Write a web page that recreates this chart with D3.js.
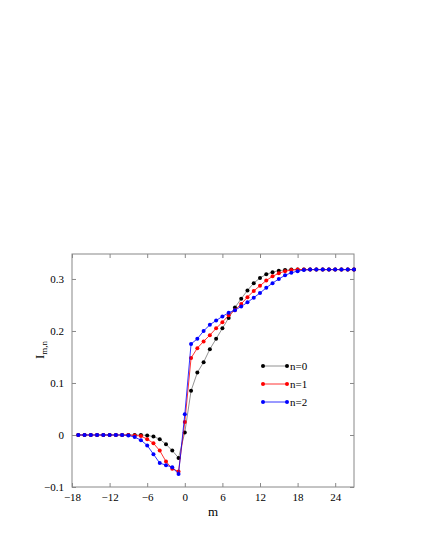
<!DOCTYPE html><html><head><script src="https://cdn.jsdelivr.net/npm/d3@7"></script>
<style>body{margin:0;background:#fff}</style></head><body><script>
const m=d3.range(-17,28);
const tail=(n,v)=>Array(n).fill(v);
const n0=[...tail(11,0),-0.001,-0.003,-0.008,-0.018,-0.03,-0.044,0.005,0.085,0.12,0.14,0.165,0.185,0.205,0.225,0.245,0.262,0.278,0.292,0.302,0.309,0.313,0.316,0.317,...tail(11,0.318)];
const n1=[...tail(9,0),-0.001,-0.002,-0.008,-0.016,-0.03,-0.051,-0.065,-0.07,0.025,0.148,0.167,0.18,0.192,0.205,0.217,0.23,0.24,0.252,0.265,0.277,0.287,0.297,0.305,0.311,0.315,0.317,...tail(10,0.318)];
const n2=[...tail(8,0),-0.001,-0.004,-0.01,-0.02,-0.037,-0.054,-0.058,-0.062,-0.075,0.04,0.175,0.185,0.2,0.212,0.22,0.228,0.235,0.24,0.247,0.255,0.264,0.273,0.283,0.292,0.3,0.307,0.312,0.315,0.317,...tail(8,0.318)];
const series=[{name:"n=0",c:"#000",line:"#777",v:n0},{name:"n=1",c:"#f00",line:"#f00",v:n1},{name:"n=2",c:"#00f",line:"#00f",v:n2}];
const xTicks=[-18,-12,-6,0,6,12,18,24], yTicks=[-0.1,0,0.1,0.2,0.3];
const F="Liberation Serif, serif";
const svg=d3.select("body").append("svg").attr("width",425).attr("height",550).attr("font-family",F);
const x=d3.scaleLinear().domain([-18,27]).range([72,354]);
const y=d3.scaleLinear().domain([-0.1,0.348]).range([487,254]);
svg.append("rect").attr("x",72).attr("y",254).attr("width",282).attr("height",233).attr("fill","none").attr("stroke","#888");
const fmt=d=>d===0?"0":(d<0?"\u2212":"")+Math.abs(d);
svg.append("g").attr("transform","translate(0,487)").call(d3.axisBottom(x).tickValues(xTicks).tickFormat(fmt).tickSize(-4).tickPadding(6));
svg.append("g").attr("transform","translate(0,254)").call(d3.axisTop(x).tickValues(xTicks).tickFormat("").tickSize(-4));
svg.append("g").attr("transform","translate(72,0)").call(d3.axisLeft(y).tickValues(yTicks).tickFormat(fmt).tickSize(-4).tickPadding(8));
svg.append("g").attr("transform","translate(354,0)").call(d3.axisRight(y).tickValues(yTicks).tickFormat("").tickSize(-4));
svg.selectAll("g").attr("font-family",F);
svg.selectAll(".domain").remove();
svg.selectAll(".tick line").attr("stroke","#888");
svg.selectAll(".tick text").attr("font-size",11).attr("fill","#000");
svg.append("text").attr("x",213).attr("y",516).attr("text-anchor","middle").attr("font-size",13).text("m");
const yl=svg.append("text").attr("transform","translate(44,350) rotate(-90)").attr("text-anchor","middle").attr("font-size",13);
yl.append("tspan").text("I");yl.append("tspan").attr("font-size",9).attr("dy",3).text("m,n");
const line=d3.line().x((d,i)=>x(m[i])).y(d=>y(d));
series.forEach((s,k)=>{
 svg.append("path").attr("d",line(s.v)).attr("fill","none").attr("stroke",s.line).attr("stroke-width",0.8);
 svg.append("g").selectAll("circle").data(s.v).join("circle").attr("cx",(d,i)=>x(m[i])).attr("cy",d=>y(d)).attr("r",2).attr("fill",s.c);
 const ly=366+k*18;
 svg.append("line").attr("x1",263).attr("x2",287).attr("y1",ly).attr("y2",ly).attr("stroke",s.line).attr("stroke-width",0.8);
 svg.append("circle").attr("cx",263).attr("cy",ly).attr("r",2).attr("fill",s.c);
 svg.append("circle").attr("cx",287).attr("cy",ly).attr("r",2).attr("fill",s.c);
 svg.append("text").attr("x",290).attr("y",ly+3.5).attr("font-size",11).text(s.name);
});
</script></body></html>
